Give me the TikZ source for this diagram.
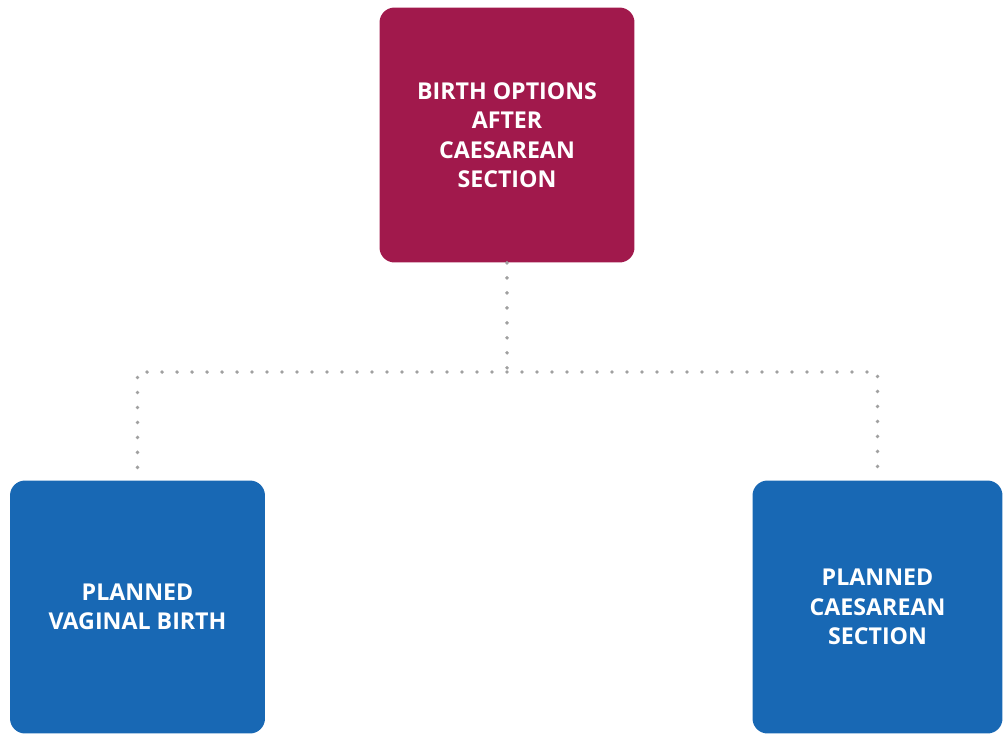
\documentclass[tikz,border=0pt]{standalone}
\usepackage{fontspec}
\setmainfont{Open Sans}
\usepackage{tikz}
\usetikzlibrary{positioning}

\definecolor{berry}{RGB}{161,25,76}
\definecolor{nhsblue}{RGB}{24,104,180}
\definecolor{dotgrey}{RGB}{160,160,160}

\begin{document}
\begin{tikzpicture}[x=0.02cm,y=-0.02cm]
	\tikzset{optbox/.style={rounded corners=0.3cm,minimum width=5.1cm,minimum height=5.1cm,
		text=white,font=\bfseries\fontsize{13.2}{16.8}\selectfont,align=center,inner sep=0pt},
		link/.style={draw=dotgrey,line width=2.2pt,line cap=round,dash pattern=on 0pt off 0.3cm}}
	\useasboundingbox (0,0) rectangle (1003,735);
	\node[optbox,fill=berry] (top) at (507,135) {BIRTH OPTIONS\\AFTER\\CAESAREAN\\SECTION};
	\node[optbox,fill=nhsblue,minimum height=5.06cm] (vaginal) at (137.5,607) {PLANNED\\VAGINAL BIRTH};
	\node[optbox,fill=nhsblue,minimum width=5cm,minimum height=5.06cm] (caesarean) at (877.5,607) {PLANNED\\CAESAREAN\\SECTION};
	\coordinate (hub) at (507,372);
	\path[link]
		(top) -- (hub)
		(hub) -| (vaginal)
		(hub) -| (caesarean);
\end{tikzpicture}
\end{document}
